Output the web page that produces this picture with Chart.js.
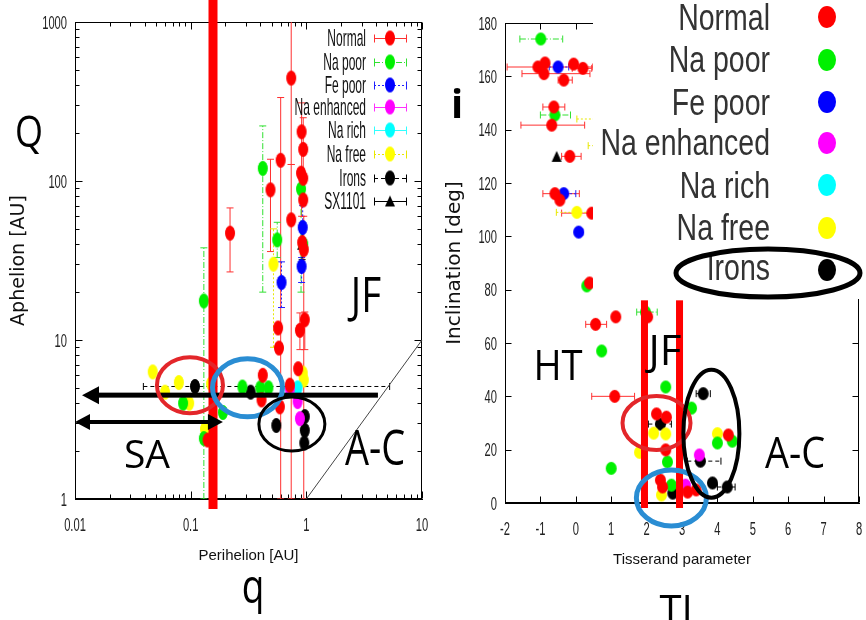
<!DOCTYPE html>
<html>
<head>
<meta charset="utf-8">
<script src="https://cdn.jsdelivr.net/npm/chart.js@4.4.1/dist/chart.umd.min.js"></script>
<style>
html, body { margin: 0; padding: 0; background: #fff; width: 866px; height: 620px; overflow: hidden; }
#left { position: absolute; left: 0; top: 0; }
#right { position: absolute; left: 430px; top: 0; }
</style>
</head>
<body>
<canvas id="left" width="430" height="620"></canvas>
<canvas id="right" width="436" height="620"></canvas>
<script>
// categories (same order in both panels)
const kinds = ['Normal', 'Na poor', 'Fe poor', 'Na enhanced', 'Na rich', 'Na free', 'Irons', 'SX1101']

// ---- left panel: perihelion q [AU] vs aphelion Q [AU] ----
const qTicks = [0.01, 0.1, 1, 10]
const QTicks = [1, 10, 100, 1000]

const qNormal = [
  {x: 0.74, y: 444, yMin: 127, yMax: 3000},
  {x: 0.219, y: 47, yMin: 26.8, yMax: 67.7},
  {x: 0.49, y: 88, yMin: 36, yMax: 137},
  {x: 0.6, y: 135, yMin: 1, yMax: 335},
  {x: 0.74, y: 57, yMin: 1, yMax: 127},
  {x: 0.91, y: 204, yMin: 60, yMax: 310},
  {x: 0.94, y: 158, yMin: 100, yMax: 250},
  {x: 0.9, y: 112},
  {x: 0.94, y: 104},
  {x: 0.94, y: 76},
  {x: 0.92, y: 41},
  {x: 0.95, y: 37, yMin: 1, yMax: 60},
  {x: 0.57, y: 11.9},
  {x: 0.58, y: 8.9},
  {x: 0.97, y: 13.4, yMin: 8.7, yMax: 15},
  {x: 0.88, y: 11.5, yMin: 8.7, yMax: 14.8},
  {x: 0.85, y: 6.6},
  {x: 0.42, y: 6.0},
  {x: 0.41, y: 4.2},
  {x: 0.59, y: 3.8},
  {x: 0.72, y: 5.2},
  {x: 0.14, y: 2.35}
]
const qNaPoor = [
  {x: 0.42, y: 120, yMin: 20, yMax: 222},
  {x: 0.56, y: 42.6, yMin: 33, yMax: 55},
  {x: 0.13, y: 17.6, yMin: 1, yMax: 38},
  {x: 0.9, y: 89, yMin: 20, yMax: 110},
  {x: 0.94, y: 40},
  {x: 0.28, y: 5.06},
  {x: 0.4, y: 5.0},
  {x: 0.47, y: 5.0},
  {x: 0.13, y: 2.4},
  {x: 0.086, y: 4.0},
  {x: 0.19, y: 3.5}
]
const qFePoor = [
  {x: 0.61, y: 23, yMin: 16, yMax: 31},
  {x: 0.93, y: 51, yMin: 40, yMax: 70},
  {x: 0.91, y: 29, yMin: 23, yMax: 33}
]
const qNaEnh = [
  {x: 0.72, y: 4.9},
  {x: 0.84, y: 4.1},
  {x: 0.88, y: 3.2}
]
const qNaRich = [
  {x: 0.84, y: 5.0}
]
const qNaFree = [
  {x: 0.52, y: 30, yMin: 9, yMax: 50},
  {x: 0.047, y: 6.3},
  {x: 0.079, y: 5.4},
  {x: 0.06, y: 4.7},
  {x: 0.097, y: 4.0},
  {x: 0.133, y: 2.75},
  {x: 0.15, y: 5.3},
  {x: 0.93, y: 6.2},
  {x: 0.95, y: 5.6}
]
const qIrons = [
  {x: 0.109, y: 5.1, xMin: 0.039, xMax: 5.25},
  {x: 0.33, y: 4.7},
  {x: 0.55, y: 2.9},
  {x: 0.97, y: 3.3},
  {x: 0.97, y: 2.7},
  {x: 0.96, y: 2.25}
]
const qSX1101 = [
  {x: 0.92, y: 40, yMin: 32, yMax: 50}
]

// ---- right panel: Tisserand parameter vs inclination [deg] ----
const tNormal = [
  {x: -1.07, y: 163.5, xMin: -1.94, xMax: 0.48},
  {x: -0.87, y: 165},
  {x: -0.9, y: 161, xMin: -1.52, xMax: 0.4},
  {x: -0.06, y: 164.6},
  {x: 0.2, y: 163, xMin: -0.1, xMax: 0.45},
  {x: -0.34, y: 158.6, xMin: -0.5, xMax: -0.1},
  {x: -0.62, y: 148.5, xMin: -0.93, xMax: -0.31},
  {x: -0.68, y: 141.7, xMin: -1.55, xMax: 0.25},
  {x: -0.17, y: 130, xMin: -0.4, xMax: 0.15},
  {x: -0.59, y: 116, xMin: -0.93, xMax: 0.1},
  {x: -0.45, y: 113.6},
  {x: 0.45, y: 108.7, xMin: -0.4, xMax: 1.2},
  {x: 0.39, y: 82.5},
  {x: 1.13, y: 69.8},
  {x: 0.56, y: 67, xMin: 0.28, xMax: 0.87},
  {x: 2.03, y: 69.8},
  {x: 1.1, y: 40, xMin: 0.45, xMax: 1.66},
  {x: 2.28, y: 33.4},
  {x: 2.56, y: 32.2},
  {x: 2.54, y: 19.9},
  {x: 4.31, y: 25.5},
  {x: 2.39, y: 8.6},
  {x: 2.45, y: 6},
  {x: 3.16, y: 4.1},
  {x: 3.4, y: 4.9}
]
const tNaPoor = [
  {x: -0.99, y: 174, xMin: -1.58, xMax: -0.37},
  {x: -0.59, y: 145.5, xMin: -1.0, xMax: -0.15},
  {x: 0.31, y: 81.4},
  {x: 0.73, y: 57},
  {x: 1.97, y: 71.6, xMin: 1.72, xMax: 2.3},
  {x: 2.54, y: 43.5},
  {x: 3.27, y: 35.6, xMin: 3.2, xMax: 3.35},
  {x: 2.59, y: 15.4},
  {x: 1.0, y: 13},
  {x: 4.0, y: 22.5},
  {x: 4.42, y: 23.2},
  {x: 2.7, y: 6.7}
]
const tFePoor = [
  {x: -0.5, y: 163.5, xMin: -0.75, xMax: -0.2},
  {x: -0.34, y: 116, xMin: -0.5, xMax: 0.0},
  {x: 0.08, y: 101.6, xMin: 0.0, xMax: 0.2}
]
const tNaEnh = [
  {x: 3.49, y: 18},
  {x: 3.1, y: 6.7}
]
const tNaRich = []
const tNaFree = [
  {x: 0.03, y: 109, xMin: -0.55, xMax: 0.9},
  {x: 1.0, y: 144, xMin: 0.03, xMax: 2.0},
  {x: 0.8, y: 134, xMin: 0.35, xMax: 1.3},
  {x: 2.2, y: 26.2},
  {x: 2.54, y: 25.9},
  {x: 1.8, y: 19},
  {x: 4.0, y: 26},
  {x: 2.42, y: 3}
]
const tIrons = [
  {x: 3.6, y: 41, xMin: 3.4, xMax: 3.8},
  {x: 2.39, y: 29.6, xMin: 2.05, xMax: 2.7},
  {x: 3.52, y: 15.7, xMin: 3.15, xMax: 4.1},
  {x: 2.74, y: 3.7},
  {x: 3.86, y: 7.5},
  {x: 4.28, y: 6, xMin: 4.0, xMax: 4.5}
]
const tSX1101 = [
  {x: -0.54, y: 130}
]

const leftLists = [qNormal, qNaPoor, qFePoor, qNaEnh, qNaRich, qNaFree, qIrons, qSX1101]
const rightLists = [tNormal, tNaPoor, tFePoor, tNaEnh, tNaRich, tNaFree, tIrons, tSX1101]

// styles
const colors = ['#ff0000', '#00f000', '#0000ff', '#ff00ff', '#00ffff', '#ffff00', '#000000', '#000000']
const errColors = ['#ff3030', '#30e030', '#2020ff', '#ff30ff', '#30ffff', '#e8e800', '#000000', '#000000']
const errDash = [[], [6, 2, 1, 2], [2, 2], [], [], [2, 2], [4, 3], []]
const sans = "'Liberation Sans', Arial, sans-serif"

function dot(color, w, h, tri) {
  const c = document.createElement('canvas')
  c.width = w + 2
  c.height = h + 2
  const g = c.getContext('2d')
  g.fillStyle = color
  g.beginPath()
  if (tri) {
    g.moveTo(c.width / 2, 1)
    g.lineTo(c.width - 1, c.height - 1)
    g.lineTo(1, c.height - 1)
    g.closePath()
  } else {
    g.ellipse(c.width / 2, c.height / 2, w / 2, h / 2, 0, 0, Math.PI * 2)
  }
  g.fill()
  return c
}

function buildSets(lists, w, h) {
  return kinds.map((k, i) => ({
    label: k,
    data: lists[i],
    pointStyle: i === 7 ? dot('#000', 10, 11, true) : dot(colors[i], w, h, false),
    pointRadius: 6,
    showLine: false,
    errColor: errColors[i],
    errDash: errDash[i]
  }))
}

// error bars, drawn under the points
const errorBars = {
  id: 'errorBars',
  beforeDatasetsDraw(chart) {
    const {ctx, chartArea: a, scales: {x, y}} = chart
    ctx.save()
    ctx.beginPath()
    ctx.rect(a.left, a.top, a.right - a.left, a.bottom - a.top)
    ctx.clip()
    ctx.lineWidth = 1
    chart.data.datasets.forEach(ds => {
      ctx.strokeStyle = ds.errColor
      ds.data.forEach(d => {
        const px = x.getPixelForValue(d.x)
        const py = y.getPixelForValue(d.y)
        if (d.yMin != null) {
          const y1 = y.getPixelForValue(d.yMin), y2 = y.getPixelForValue(d.yMax)
          ctx.setLineDash(ds.errDash)
          ctx.beginPath(); ctx.moveTo(px, y1); ctx.lineTo(px, y2); ctx.stroke()
          ctx.setLineDash([])
          ctx.beginPath()
          ctx.moveTo(px - 3.5, y1); ctx.lineTo(px + 3.5, y1)
          ctx.moveTo(px - 3.5, y2); ctx.lineTo(px + 3.5, y2)
          ctx.stroke()
        }
        if (d.xMin != null) {
          const x1 = x.getPixelForValue(d.xMin), x2 = x.getPixelForValue(d.xMax)
          ctx.setLineDash(ds.errDash)
          ctx.beginPath(); ctx.moveTo(x1, py); ctx.lineTo(x2, py); ctx.stroke()
          ctx.setLineDash([])
          ctx.beginPath()
          ctx.moveTo(x1, py - 3.5); ctx.lineTo(x1, py + 3.5)
          ctx.moveTo(x2, py - 3.5); ctx.lineTo(x2, py + 3.5)
          ctx.stroke()
        }
      })
    })
    ctx.restore()
  }
}

function txt(ctx, s, x, y, size, opt) {
  opt = opt || {}
  ctx.save()
  ctx.translate(x, y)
  ctx.scale(opt.sx || 1, opt.sy || 1)
  ctx.font = (opt.weight || '') + ' ' + size + 'px ' + (opt.family || "'Open Sans', sans-serif")
  ctx.fillStyle = opt.color || '#000'
  ctx.textAlign = opt.align || 'center'
  ctx.textBaseline = 'alphabetic'
  ctx.fillText(s, 0, 0)
  ctx.restore()
}

// gnuplot style frame: inward ticks on all four sides, narrow tick labels
function frame(xMinor, yMinor, L, l, xLabelBase) {
  return {
    id: 'frame',
    beforeDatasetsDraw(chart) {
      const {ctx, chartArea: a, scales: {x, y}} = chart
      const T = Math.round(a.top) + 0.5, B = Math.round(a.bottom) - 0.5
      const Lf = Math.round(a.left) + 0.5, R = Math.round(a.right) - 0.5
      ctx.save()
      ctx.strokeStyle = '#000'
      ctx.lineWidth = 1
      ctx.strokeRect(Lf, T, R - Lf, B - T)
      ctx.beginPath()
      const xt = (vals, len) => vals.forEach(v => {
        const p = Math.round(x.getPixelForValue(v)) + 0.5
        ctx.moveTo(p, B); ctx.lineTo(p, B - len)
        ctx.moveTo(p, T); ctx.lineTo(p, T + len)
      })
      const yt = (vals, len) => vals.forEach(v => {
        const p = Math.round(y.getPixelForValue(v)) + 0.5
        ctx.moveTo(Lf, p); ctx.lineTo(Lf + len, p)
        ctx.moveTo(R, p); ctx.lineTo(R - len, p)
      })
      const xv = x.ticks.map(t => t.value), yv = y.ticks.map(t => t.value)
      xt(xv, L); xt(xMinor, l); yt(yv, L); yt(yMinor, l)
      ctx.stroke()
      ctx.restore()
      x.ticks.forEach(t => txt(ctx, String(t.value), x.getPixelForValue(t.value), a.bottom + xLabelBase, 18,
        {family: sans, sx: 0.62, color: '#222'}))
      y.ticks.forEach(t => txt(ctx, String(t.value), a.left - 8, y.getPixelForValue(t.value) + 6.5, 18,
        {family: sans, sx: 0.62, align: 'right', color: '#222'}))
    }
  }
}

function minors(decades) {
  const out = []
  decades.forEach(d => { for (let k = 2; k <= 9; k++) out.push(d * k) })
  return out
}

function ring(ctx, cx, cy, rx, ry, color, lw) {
  ctx.save()
  ctx.strokeStyle = color
  ctx.lineWidth = lw
  ctx.beginPath()
  ctx.ellipse(cx, cy, rx, ry, 0, 0, Math.PI * 2)
  ctx.stroke()
  ctx.restore()
}

function arrow(ctx, x1, x2, y, lw, hl, hw, both) {
  ctx.save()
  ctx.fillStyle = '#000'
  ctx.fillRect(x1 + hl - 2, y - lw / 2, x2 - x1 - hl + 2 - (both ? hl - 2 : 0), lw)
  ctx.beginPath()
  ctx.moveTo(x1, y); ctx.lineTo(x1 + hl, y - hw); ctx.lineTo(x1 + hl, y + hw); ctx.closePath()
  if (both) {
    ctx.moveTo(x2, y); ctx.lineTo(x2 - hl, y - hw); ctx.lineTo(x2 - hl, y + hw); ctx.closePath()
  }
  ctx.fill()
  ctx.restore()
}

function leftOverlay(chart) {
  const {ctx, scales: {x, y}} = chart
  const X = v => x.getPixelForValue(v), Y = v => y.getPixelForValue(v)
  // q = Q boundary
  ctx.save()
  ctx.strokeStyle = '#444'
  ctx.lineWidth = 1
  ctx.beginPath(); ctx.moveTo(X(1), Y(1)); ctx.lineTo(X(10), Y(10)); ctx.stroke()
  ctx.restore()

  // key
  const rowY = [38, 62, 85, 107, 130, 154, 178, 201]
  kinds.forEach((k, i) => {
    const yy = rowY[i]
    txt(ctx, k, 366, yy + 8, 20, {family: sans, sx: 0.6, sy: 1.17, align: 'right', color: '#111'})
    ctx.save()
    ctx.strokeStyle = errColors[i]
    ctx.lineWidth = 1
    ctx.setLineDash(errDash[i])
    ctx.beginPath(); ctx.moveTo(374, yy + 0.5); ctx.lineTo(407, yy + 0.5); ctx.stroke()
    ctx.setLineDash([])
    ctx.beginPath()
    ctx.moveTo(374.5, yy - 3.5); ctx.lineTo(374.5, yy + 4.5)
    ctx.moveTo(406.5, yy - 3.5); ctx.lineTo(406.5, yy + 4.5)
    ctx.stroke()
    const img = chart.data.datasets[i].pointStyle
    ctx.drawImage(img, 390 - img.width / 2, yy - img.height / 2)
    ctx.restore()
  })

  // boundary line at q ~ 0.16 AU
  ctx.fillStyle = '#ff0000'
  ctx.fillRect(X(0.156) - 4.5, 0, 9, 509)

  arrow(ctx, X(0.0115), X(4.16), Y(4.5), 5, 17, 9, false)
  arrow(ctx, X(0.01), X(0.19), Y(3.05), 4, 15, 8, true)

  ring(ctx, X(0.0986), Y(5.2), 33, 28, '#e3262a', 4)
  ring(ctx, X(0.31), Y(5.0), 35, 29, '#2a8dd3', 5)
  ring(ctx, X(0.75), Y(2.96), 33, 27, '#000', 3)

  txt(ctx, 'JF', 366, 312, 38.6, {sy: 1.27})
  txt(ctx, 'SA', 147, 468, 39)
  txt(ctx, 'A-C', 375, 465, 38, {sy: 1.29})
  txt(ctx, 'Q', 29, 147, 36, {sy: 1.24})
  txt(ctx, 'q', 253, 603, 37, {sy: 1.28})
}

function rightOverlay(chart) {
  const {ctx, chartArea: a, scales: {x, y}} = chart
  const X = v => x.getPixelForValue(v), Y = v => y.getPixelForValue(v)
  // TJ = 2 and TJ = 3 boundaries
  ctx.fillStyle = '#ff0000'
  ;[1.94, 2.93].forEach(t => ctx.fillRect(X(t) - 3.5, Y(76), 7, a.bottom + 5 - Y(76)))

  txt(ctx, 'HT', 558 - 430, 380, 38.2, {sy: 1.1})
  txt(ctx, 'JF', 665 - 430, 365, 42)
  txt(ctx, 'A-C', 795 - 430, 468, 38, {sy: 1.14})

  ring(ctx, X(2.28), Y(30), 34, 27, '#e3262a', 4)
  ring(ctx, X(2.7), Y(1.9), 35, 28, '#2a8dd3', 5)
  ring(ctx, X(3.83), Y(26), 28, 64, '#000', 4)

  // picture key pasted over the upper right part of the panel
  ctx.fillStyle = '#fff'
  ctx.fillRect(593 - 430, 0, 866 - 593, 299)
  const base = [30, 72, 115, 155, 198, 240, 280]
  const dotY = [17, 60, 102, 143, 185, 228, 270]
  for (let i = 0; i < 7; i++) {
    txt(ctx, kinds[i], 770 - 430, base[i], 37, {family: sans, sx: 0.77, align: 'right', color: '#333'})
    ctx.fillStyle = colors[i]
    ctx.beginPath()
    ctx.ellipse(827 - 430, dotY[i], 9, 11, 0, 0, Math.PI * 2)
    ctx.fill()
  }
  ring(ctx, 768 - 430, 273, 92, 24, '#000', 5)

  txt(ctx, 'i', 457 - 430, 118, 40, {weight: 'bold'})
  txt(ctx, 'TJ', 676 - 430, 624, 40)
}

// axis boxes get fixed sizes so the plot areas land where the reference has them
const fixW = w => s => { s.width = w; s.paddingTop = 0; s.paddingBottom = 0 }
const fixH = h => s => { s.height = h; s.paddingLeft = 0; s.paddingRight = 0 }

Chart.defaults.font.family = sans
Chart.defaults.color = '#222'

const leftChart = new Chart(document.getElementById('left').getContext('2d'), {
  type: 'scatter',
  data: {datasets: buildSets(leftLists, 10, 15)},
  options: {
    responsive: false,
    animation: false,
    devicePixelRatio: 1,
    layout: {padding: {left: 8, right: 8, top: 22, bottom: 55}},
    plugins: {legend: {display: false}, tooltip: {enabled: false}},
    scales: {
      x: {
        type: 'logarithmic', min: 0.01, max: 10,
        afterBuildTicks: s => { s.ticks = qTicks.map(v => ({value: v})) },
        afterFit: fixH(66),
        ticks: {display: false},
        grid: {drawOnChartArea: false, drawTicks: false},
        border: {color: '#000'},
        title: {display: true, text: 'Perihelion [AU]', font: {size: 15}, color: '#111', padding: 0}
      },
      y: {
        type: 'logarithmic', min: 1, max: 1000,
        afterBuildTicks: s => { s.ticks = QTicks.map(v => ({value: v})) },
        afterFit: fixW(67),
        ticks: {display: false},
        grid: {drawOnChartArea: false, drawTicks: false},
        border: {color: '#000'},
        title: {display: true, text: 'Aphelion [AU]', font: {size: 19, family: "'DejaVu Sans', sans-serif"}, color: '#111', padding: 0}
      }
    }
  },
  plugins: [
    frame(minors([0.01, 0.1, 1]), minors([1, 10, 100]), 7, 4, 32),
    errorBars,
    {id: 'leftOverlay', afterDraw: leftOverlay}
  ]
})

const rightChart = new Chart(document.getElementById('right').getContext('2d'), {
  type: 'scatter',
  data: {datasets: buildSets(rightLists, 11, 13)},
  options: {
    responsive: false,
    animation: false,
    devicePixelRatio: 1,
    layout: {padding: {left: 13, right: 6, top: 23, bottom: 51}},
    plugins: {legend: {display: false}, tooltip: {enabled: false}},
    scales: {
      x: {
        type: 'linear', min: -2, max: 8,
        afterFit: fixH(66),
        ticks: {stepSize: 1, display: false},
        grid: {drawOnChartArea: false, drawTicks: false},
        border: {color: '#000'},
        title: {display: true, text: 'Tisserand parameter', font: {size: 15}, color: '#111', padding: 0}
      },
      y: {
        type: 'linear', min: 0, max: 180,
        afterFit: fixW(62),
        ticks: {stepSize: 20, display: false},
        grid: {drawOnChartArea: false, drawTicks: false},
        border: {color: '#000'},
        title: {display: true, text: 'Inclination [deg]', font: {size: 20, family: "'DejaVu Sans', sans-serif"}, color: '#111', padding: 0}
      }
    }
  },
  plugins: [
    frame([], [], 6, 3, 32),
    errorBars,
    {id: 'rightOverlay', afterDraw: rightOverlay}
  ]
})
</script>
</body>
</html>
